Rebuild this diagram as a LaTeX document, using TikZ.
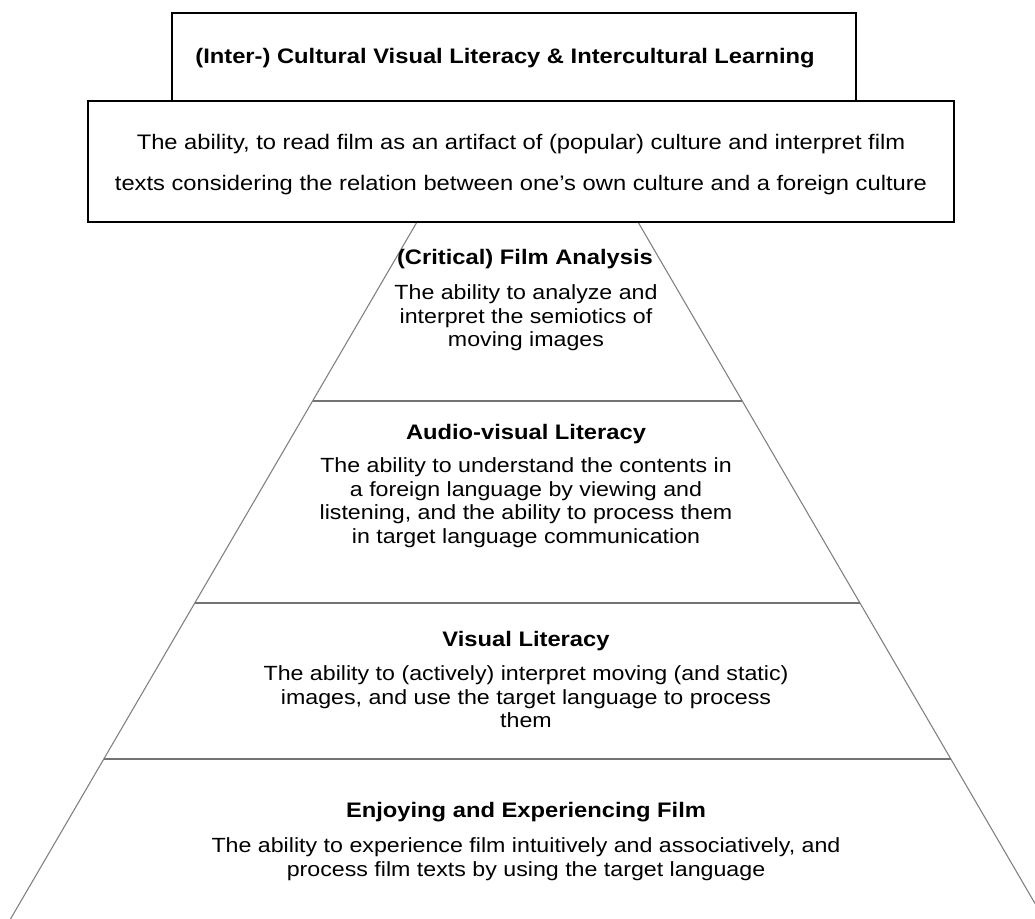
\documentclass[tikz,border=0pt]{standalone}
\usepackage{fontspec}
\setmainfont[FakeStretch=1.13]{Liberation Sans}
\begin{document}
\begin{tikzpicture}[x=0.75pt,y=-0.75pt,
  frame/.style={draw=black,line width=1.2pt},
  side/.style={draw=black!50,line width=0.8pt},
  divider/.style={draw=black!55,line width=0.9pt},
  headtitle/.style={anchor=base,inner sep=0pt,font=\fontsize{15.75pt}{18pt}\selectfont\bfseries},
  headbody/.style={anchor=north,inner sep=0pt,align=center,font=\fontsize{15.75pt}{30.75pt}\selectfont},
  tiertitle/.style={anchor=base,inner sep=0pt,font=\fontsize{15.75pt}{18pt}\selectfont\bfseries},
  tierbody/.style={anchor=north,inner sep=0pt,align=center,font=\fontsize{15.4pt}{17.6pt}\selectfont}]
% canvas
\fill[white] (0,0) rectangle (1035,919);
\useasboundingbox (0,0) rectangle (1035,919);

% pyramid corners and tier boundaries
\coordinate (apexL) at (417,222);
\coordinate (apexR) at (638,222);
\coordinate (baseL) at (10.5,919);
\coordinate (baseR) at (1035,903.5);
\coordinate (d1L) at (313,401);
\coordinate (d1R) at (742,401);
\coordinate (d2L) at (195,603);
\coordinate (d2R) at (860,603);
\coordinate (d3L) at (104,759);
\coordinate (d3R) at (951,759);

\draw[side] (apexL) -- (baseL);
\draw[side] (apexR) -- (baseR);
\draw[divider] (d1L) -- (d1R);
\draw[divider] (d2L) -- (d2R);
\draw[divider] (d3L) -- (d3R);

% heading boxes
\draw[frame] (88,101) rectangle (954,222);
\draw[frame] (172,13) rectangle (856,101);

\node[headtitle] (head) at (505,64) {(Inter-) Cultural Visual Literacy \& Intercultural Learning};
\node[headbody] (headtext) at (521,134.5) {The ability, to read film as an artifact of (popular) culture and interpret film\\texts considering the relation between one’s own culture and a foreign culture};

% tiers
\node[tiertitle] (t1) at (525,265) {(Critical) Film Analysis};
\node[tierbody] (b1) at (526,284.5) {The ability to analyze and\\interpret the semiotics of\\moving images};

\node[tiertitle] (t2) at (526,440) {Audio-visual Literacy};
\node[tierbody] (b2) at (526,457.5) {The ability to understand the contents in\\a foreign language by viewing and\\listening, and the ability to process them\\in target language communication};

\node[tiertitle] (t3) at (526,646) {Visual Literacy};
\node[tierbody] (b3) at (526,665.5) {The ability to (actively) interpret moving (and static)\\images, and use the target language to process\\them};

\node[tiertitle] (t4) at (526,817) {Enjoying and Experiencing Film};
\node[tierbody] (b4) at (526,837.5) {The ability to experience film intuitively and associatively, and\\process film texts by using the target language};
\end{tikzpicture}
\end{document}
